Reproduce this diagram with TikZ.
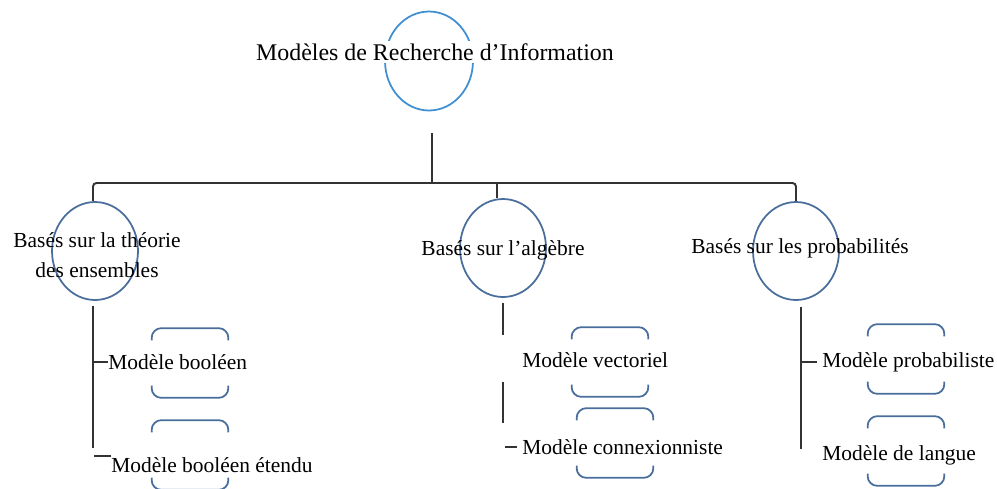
\documentclass[tikz,border=0pt]{standalone}
\usepackage{fontspec}
\setmainfont{Liberation Serif}
\usetikzlibrary{positioning,shapes.geometric}
\definecolor{ringblue}{HTML}{3F8FD2}
\definecolor{slateblue}{HTML}{4A6E9C}
\definecolor{linegray}{HTML}{333333}
\tikzset{
  ring/.style={
    ellipse,
    draw=slateblue,
    line width=1pt,
    minimum width=1.72cm,
    minimum height=1.96cm,
    inner sep=0pt
  },
  toptext/.style={
    font=\fontsize{13.6}{16}\selectfont,
    fill=white,
    inner sep=1.5pt
  },
  cattext/.style={
    font=\fontsize{12.2}{17}\selectfont,
    align=center,
    inner sep=0pt
  },
  modeltext/.style={
    font=\fontsize{12.2}{15}\selectfont,
    anchor=west,
    inner sep=0pt
  },
  frame/.style={
    minimum width=1.52cm,
    minimum height=1.38cm,
    inner sep=0pt
  },
  capline/.style={
    draw=slateblue,
    line width=1pt,
    rounded corners=5.5pt
  },
  link/.style={
    draw=linegray,
    line width=1.1pt
  }
}
% upper and lower caps of a frame node
\newcommand{\caps}[1]{%
  \draw[capline] ([yshift=-7pt]#1.north west) -- (#1.north west) -- (#1.north east) -- ([yshift=-7pt]#1.north east);
  \draw[capline] ([yshift=7pt]#1.south west) -- (#1.south west) -- (#1.south east) -- ([yshift=7pt]#1.south east);}

\begin{document}
\begin{tikzpicture}[x=0.02cm, y=-0.02cm]
\useasboundingbox (0,0) rectangle (997,488);
% root
\node[ring, draw=ringblue, minimum width=1.76cm, minimum height=1.98cm] (topc) at (429,61) {};
\node[toptext] (top) at (435,52) {Modèles de Recherche d’Information};
% categories
\node[ring] (setc) at (95,251) {};
\node[ring] (algc) at (503,248) {};
\node[ring] (probc) at (796,251) {};
\node[cattext] (set) at (97,255) {Basés sur la théorie\\des ensembles};
\node[cattext] (alg) at (503,250) {Basés sur l’algèbre};
\node[cattext] (prob) at (800,248) {Basés sur les probabilités};
% bus
\coordinate (bus) at (93,183);
\draw[link] ([xshift=0.06cm,yshift=-0.44cm]topc.south) -- ([xshift=0.06cm]topc.south |- bus);
\draw[link, rounded corners=2pt] ([xshift=-0.04cm]setc.north) -- ([xshift=-0.04cm]setc.north |- bus) -- (probc.north |- bus) -- (probc.north);
\draw[link] ([xshift=-0.12cm]algc.north) -- ([xshift=-0.12cm]algc.north |- bus);
% frames
\node[frame] (boolf) at (190,363) {};
\node[frame] (extf) at (190,455) {};
\node[frame] (vecf) at (610,362) {};
\node[frame] (conf) at (615,443) {};
\node[frame] (prf) at (906,359) {};
\node[frame] (langf) at (906,451) {};
\foreach \f in {boolf,extf,vecf,conf,prf,langf} {\caps{\f}}
% models
\node[modeltext] (bool) at (108,362) {Modèle booléen};
\node[modeltext] (ext) at (111,465) {Modèle booléen étendu};
\node[modeltext] (vec) at (522,360) {Modèle vectoriel};
\node[modeltext] (con) at (522,447) {Modèle connexionniste};
\node[modeltext] (pr) at (822,362) {Modèle probabiliste};
\node[modeltext] (lang) at (822,455) {Modèle de langue};
% trunks and ticks
\draw[link] ([xshift=-0.04cm,yshift=-0.1cm]setc.south) -- ++(0,142);
\draw[link] (bool.west) -- ++(-15,0);
\draw[link] ([yshift=0.18cm]ext.west) -- ++(-17,0);
\draw[link] ([yshift=-0.1cm]algc.south) -- ++(0,32);
\draw[link] ([yshift=-1.68cm]algc.south) -- ++(0,41);
\draw[link] ([xshift=-0.1cm]con.west) -- ++(-12,0);
\draw[link] ([xshift=0.1cm,yshift=-0.12cm]probc.south) -- ++(0,142);
\draw[link] ([xshift=-0.1cm]pr.west) -- ++(-16,0);
\end{tikzpicture}
\end{document}
